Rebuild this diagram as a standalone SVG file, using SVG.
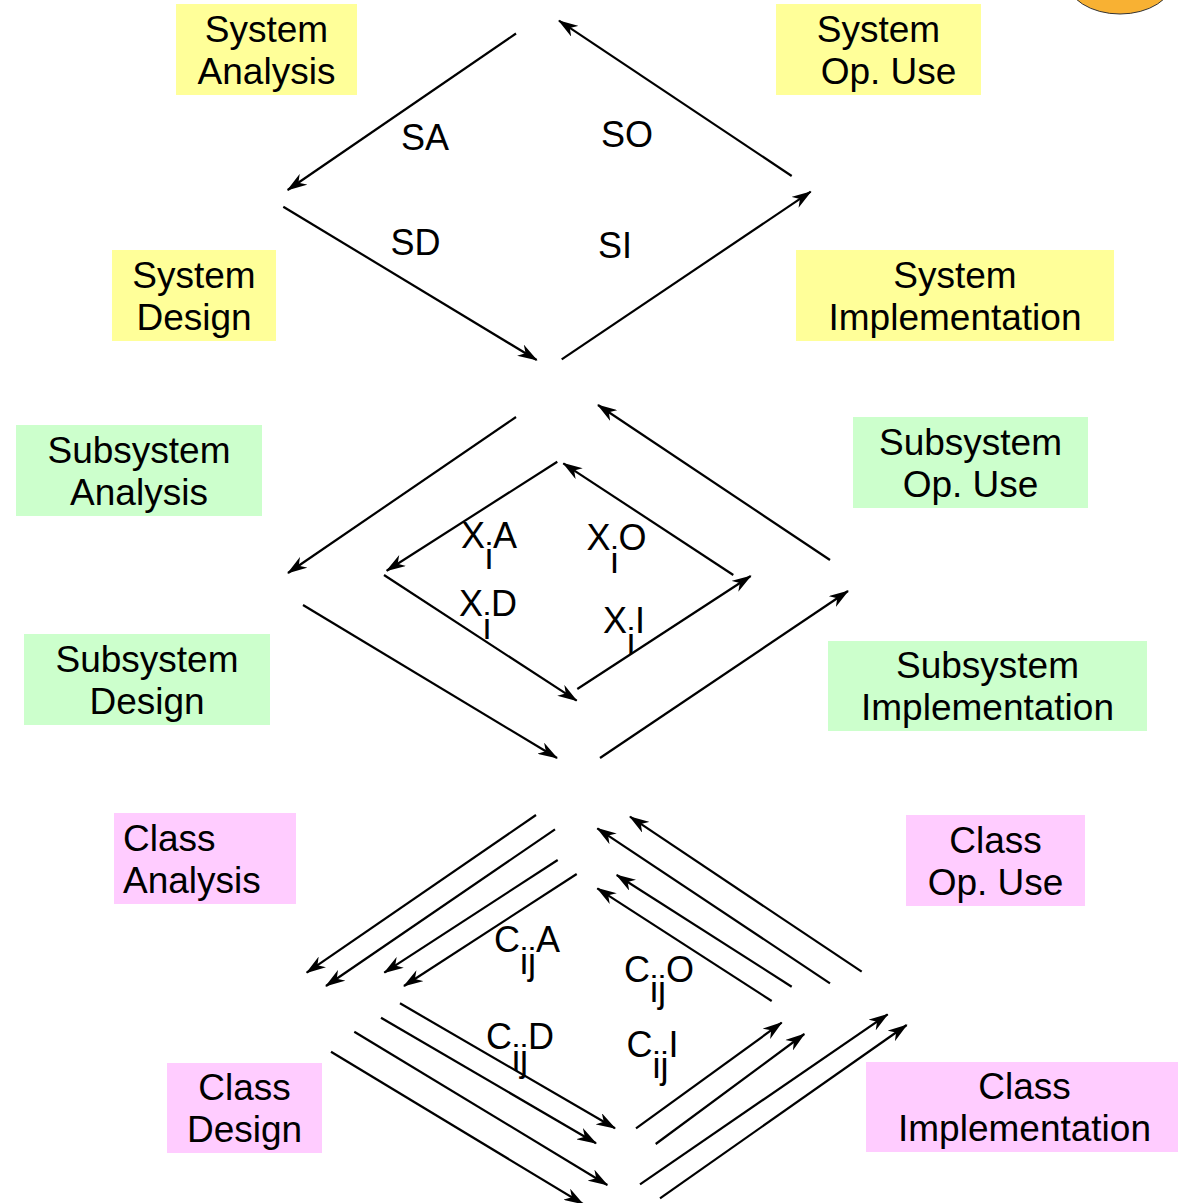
<svg xmlns="http://www.w3.org/2000/svg" width="1178" height="1203" viewBox="0 0 1178 1203">
  <style>
    .box-sys { fill: #ffff99; }
    .box-sub { fill: #ccffcc; }
    .box-cls { fill: #ffccff; }
    .lbl { font-family: "Liberation Sans", Arial, sans-serif; font-size: 37px; fill: #000; }
    .mid { text-anchor: middle; }
    .flow { font-family: "Liberation Sans", Arial, sans-serif; font-size: 36px; fill: #000; }
    .conn line { stroke: #000; stroke-width: 2.2; fill: none; marker-end: url(#head); }
  </style>
  <defs>
    <marker id="head" viewBox="0 0 20 13" refX="19" refY="6.5" markerWidth="20" markerHeight="13" markerUnits="userSpaceOnUse" orient="auto">
      <path d="M20,6.5 L0,0 L6,6.5 L0,13 Z" fill="#000"/>
    </marker>
  </defs>

  <rect width="1178" height="1203" fill="#fff"/>

  <!-- corner badge -->
  <ellipse cx="1120" cy="-20" rx="53" ry="34" fill="#f8b133" stroke="#333" stroke-width="1"/>

  <!-- system level -->
  <g id="system-analysis">
    <rect class="box-sys" x="176" y="4" width="181" height="91"/>
    <text class="lbl mid" x="266.5" y="41.5">System</text>
    <text class="lbl mid" x="266.5" y="83.5">Analysis</text>
  </g>
  <g id="system-op-use">
    <rect class="box-sys" x="776" y="4" width="205" height="91"/>
    <text class="lbl mid" x="878.5" y="41.5">System</text>
    <text class="lbl mid" x="888.5" y="83.5">Op. Use</text>
  </g>
  <g id="system-design">
    <rect class="box-sys" x="112" y="250" width="164" height="91"/>
    <text class="lbl mid" x="194" y="287.5">System</text>
    <text class="lbl mid" x="194" y="329.5">Design</text>
  </g>
  <g id="system-implementation">
    <rect class="box-sys" x="796" y="250" width="318" height="91"/>
    <text class="lbl mid" x="955" y="287.5">System</text>
    <text class="lbl mid" x="955" y="329.5">Implementation</text>
  </g>

  <!-- subsystem level -->
  <g id="subsystem-analysis">
    <rect class="box-sub" x="16" y="425" width="246" height="91"/>
    <text class="lbl mid" x="139" y="462.5">Subsystem</text>
    <text class="lbl mid" x="139" y="504.5">Analysis</text>
  </g>
  <g id="subsystem-op-use">
    <rect class="box-sub" x="853" y="417" width="235" height="91"/>
    <text class="lbl mid" x="970.5" y="454.5">Subsystem</text>
    <text class="lbl mid" x="970.5" y="496.5">Op. Use</text>
  </g>
  <g id="subsystem-design">
    <rect class="box-sub" x="24" y="634" width="246" height="91"/>
    <text class="lbl mid" x="147" y="671.5">Subsystem</text>
    <text class="lbl mid" x="147" y="713.5">Design</text>
  </g>
  <g id="subsystem-implementation">
    <rect class="box-sub" x="828" y="641" width="319" height="90"/>
    <text class="lbl mid" x="987.5" y="678">Subsystem</text>
    <text class="lbl mid" x="987.5" y="720">Implementation</text>
  </g>

  <!-- class level -->
  <g id="class-analysis">
    <rect class="box-cls" x="114" y="813" width="182" height="91"/>
    <text class="lbl" x="123" y="850.5">Class</text>
    <text class="lbl" x="123" y="892.5">Analysis</text>
  </g>
  <g id="class-op-use">
    <rect class="box-cls" x="906" y="815" width="179" height="91"/>
    <text class="lbl mid" x="995.5" y="852.5">Class</text>
    <text class="lbl mid" x="995.5" y="894.5">Op. Use</text>
  </g>
  <g id="class-design">
    <rect class="box-cls" x="167" y="1063" width="155" height="90"/>
    <text class="lbl mid" x="244.5" y="1100">Class</text>
    <text class="lbl mid" x="244.5" y="1142">Design</text>
  </g>
  <g id="class-implementation">
    <rect class="box-cls" x="866" y="1062" width="312" height="90"/>
    <text class="lbl mid" x="1024.5" y="1099">Class</text>
    <text class="lbl mid" x="1024.5" y="1141">Implementation</text>
  </g>

  <!-- connectors -->
  <g id="connectors" class="conn">
    <!-- system cycle -->
    <line x1="516" y1="33.5" x2="287.7" y2="190"/>
    <line x1="791.7" y1="176" x2="559" y2="20.7"/>
    <line x1="283.3" y1="206.7" x2="536.7" y2="360"/>
    <line x1="561.7" y1="359.3" x2="810.7" y2="191.7"/>
    <!-- subsystem outer cycle -->
    <line x1="516" y1="417" x2="288" y2="573"/>
    <line x1="830" y1="560" x2="598" y2="405"/>
    <line x1="303" y1="605" x2="557" y2="758"/>
    <line x1="600" y1="758" x2="848" y2="591"/>
    <!-- subsystem inner cycle -->
    <line x1="557.3" y1="461.7" x2="386.7" y2="570.7"/>
    <line x1="384" y1="575" x2="576.7" y2="700.7"/>
    <line x1="577.3" y1="689" x2="750.7" y2="576"/>
    <line x1="733.3" y1="575" x2="563.3" y2="463.3"/>
    <!-- class analysis -->
    <line x1="536" y1="815" x2="306.7" y2="972.7"/>
    <line x1="555" y1="829.3" x2="326" y2="986"/>
    <line x1="557.7" y1="860" x2="384.3" y2="972.7"/>
    <line x1="576.7" y1="874" x2="404" y2="986"/>
    <!-- class op. use -->
    <line x1="861.7" y1="971.7" x2="630" y2="816.7"/>
    <line x1="830" y1="983.3" x2="597.3" y2="828.3"/>
    <line x1="791.7" y1="986.7" x2="616.7" y2="875"/>
    <line x1="771.7" y1="1001" x2="597.3" y2="888.3"/>
    <!-- class design -->
    <line x1="400" y1="1003.3" x2="615" y2="1128.3"/>
    <line x1="381" y1="1017.7" x2="596" y2="1143.3"/>
    <line x1="354.3" y1="1031.7" x2="607.3" y2="1185"/>
    <line x1="331" y1="1051.7" x2="583" y2="1204"/>
    <!-- class implementation -->
    <line x1="636" y1="1128.3" x2="781.7" y2="1022.7"/>
    <line x1="655.7" y1="1144" x2="804.3" y2="1034"/>
    <line x1="640" y1="1184.3" x2="887.7" y2="1014.3"/>
    <line x1="660" y1="1198.3" x2="906.7" y2="1025"/>
  </g>

  <!-- activity labels -->
  <g id="activity-labels">
    <text class="flow" x="401" y="149.5">SA</text>
    <text class="flow" x="601" y="147">SO</text>
    <text class="flow" x="390.5" y="255">SD</text>
    <text class="flow" x="598" y="258">SI</text>

    <text class="flow" x="461" y="548">X<tspan dy="21">i</tspan><tspan dy="-21">A</tspan></text>
    <text class="flow" x="586.5" y="550">X<tspan dy="23">i</tspan><tspan dy="-23">O</tspan></text>
    <text class="flow" x="459" y="616">X<tspan dy="23">i</tspan><tspan dy="-23">D</tspan></text>
    <text class="flow" x="603" y="633">X<tspan dy="21">i</tspan><tspan dy="-21">I</tspan></text>

    <text class="flow" x="494" y="951.5">C<tspan dy="22">ij</tspan><tspan dy="-22">A</tspan></text>
    <text class="flow" x="624" y="981.5">C<tspan dy="20">ij</tspan><tspan dy="-20">O</tspan></text>
    <text class="flow" x="486" y="1049">C<tspan dy="22">ij</tspan><tspan dy="-22">D</tspan></text>
    <text class="flow" x="626.5" y="1056.5">C<tspan dy="21.5">ij</tspan><tspan dy="-21.5">I</tspan></text>
  </g>
</svg>
